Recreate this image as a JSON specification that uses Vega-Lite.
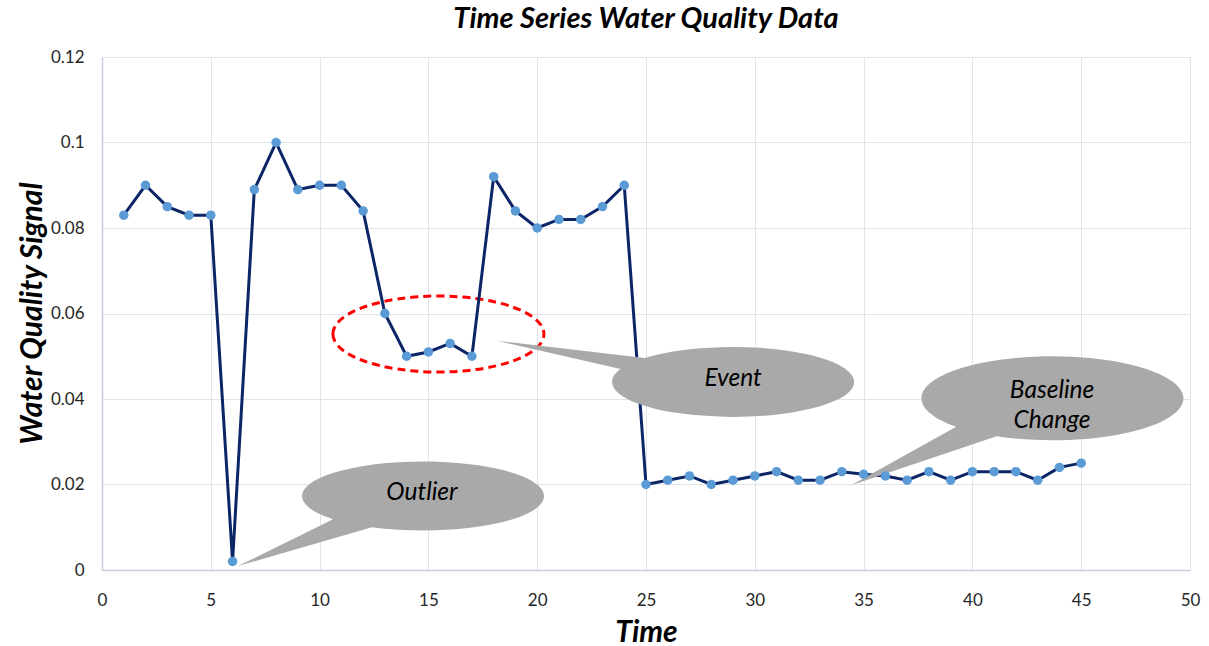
{
  "$schema": "https://vega.github.io/schema/vega-lite/v6.json",
  "width": 1088,
  "height": 513,
  "autosize": "none",
  "padding": {"left": 102, "top": 57, "right": 19, "bottom": 76},
  "background": "white",
  "config": {"font": "Lato", "view": {"stroke": null}},
  "title": {"text": "Time Series Water Quality Data", "fontSize": 29, "fontStyle": "italic", "fontWeight": "bold", "font": "Lato", "color": "#000000", "offset": 14, "anchor": "middle"},
  "datasets": {
    "series": [
      {"time": 1, "signal": 0.083}, {"time": 2, "signal": 0.090}, {"time": 3, "signal": 0.085}, {"time": 4, "signal": 0.083}, {"time": 5, "signal": 0.083},
      {"time": 6, "signal": 0.002}, {"time": 7, "signal": 0.089}, {"time": 8, "signal": 0.100}, {"time": 9, "signal": 0.089}, {"time": 10, "signal": 0.090},
      {"time": 11, "signal": 0.090}, {"time": 12, "signal": 0.084}, {"time": 13, "signal": 0.060}, {"time": 14, "signal": 0.050}, {"time": 15, "signal": 0.051},
      {"time": 16, "signal": 0.053}, {"time": 17, "signal": 0.050}, {"time": 18, "signal": 0.092}, {"time": 19, "signal": 0.084}, {"time": 20, "signal": 0.080},
      {"time": 21, "signal": 0.082}, {"time": 22, "signal": 0.082}, {"time": 23, "signal": 0.085}, {"time": 24, "signal": 0.090}, {"time": 25, "signal": 0.020},
      {"time": 26, "signal": 0.021}, {"time": 27, "signal": 0.022}, {"time": 28, "signal": 0.020}, {"time": 29, "signal": 0.021}, {"time": 30, "signal": 0.022},
      {"time": 31, "signal": 0.023}, {"time": 32, "signal": 0.021}, {"time": 33, "signal": 0.021}, {"time": 34, "signal": 0.023}, {"time": 35, "signal": 0.0224},
      {"time": 36, "signal": 0.022}, {"time": 37, "signal": 0.021}, {"time": 38, "signal": 0.023}, {"time": 39, "signal": 0.021}, {"time": 40, "signal": 0.023},
      {"time": 41, "signal": 0.023}, {"time": 42, "signal": 0.023}, {"time": 43, "signal": 0.021}, {"time": 44, "signal": 0.024}, {"time": 45, "signal": 0.025}
    ],
    "callouts": [
      {"kind": "Event", "time": 29.0, "signal": 0.044},
      {"kind": "Outlier", "time": 14.75, "signal": 0.0173},
      {"kind": "Baseline", "time": 43.66, "signal": 0.0402}
    ],
    "notes": [
      {"label": "Event", "time": 29.0, "signal": 0.0447},
      {"label": "Outlier", "time": 14.7, "signal": 0.018},
      {"label": "Baseline\nChange", "time": 43.66, "signal": 0.0419}
    ],
    "region": [{"time": 15.46, "signal": 0.0552}]
  },
  "encoding": {
    "x": {
      "field": "time", "type": "quantitative",
      "scale": {"domain": [0, 50], "nice": false, "zero": false},
      "axis": {
        "title": "Time", "values": [0, 5, 10, 15, 20, 25, 30, 35, 40, 45, 50],
        "titleFontSize": 30, "titleFontStyle": "italic", "titleFontWeight": "bold", "titleColor": "#000000",
        "titleX": 544, "titleY": 62, "titleBaseline": "middle",
        "labelFontSize": 17, "labelColor": "#262626", "labelPadding": 22, "labelFlush": false,
        "ticks": false, "tickSize": 0,
        "grid": true, "gridColor": "#E2E4EC", "gridWidth": 1,
        "domainColor": "#C8CCDC", "domainWidth": 1.5
      }
    },
    "y": {
      "field": "signal", "type": "quantitative",
      "scale": {"domain": [0, 0.12], "nice": false, "zero": false},
      "axis": {
        "title": "Water Quality Signal", "values": [0, 0.02, 0.04, 0.06, 0.08, 0.1, 0.12], "format": ".2~f",
        "titleFontSize": 30, "titleFontStyle": "italic", "titleFontWeight": "bold", "titleColor": "#000000",
        "titleX": -70, "titleY": 256, "titleBaseline": "middle", "titleAngle": -90,
        "labelFontSize": 17, "labelColor": "#262626", "labelPadding": 18, "labelFlush": false,
        "ticks": false, "tickSize": 0,
        "grid": true, "gridColor": "#E2E4EC", "gridWidth": 1,
        "domainColor": "#C8CCDC", "domainWidth": 1.5
      }
    }
  },
  "layer": [
    {
      "data": {"name": "region"},
      "mark": {"type": "point", "shape": "M -105.5 0 A 105.5 38 0 1 0 105.5 0 A 105.5 38 0 1 0 -105.5 0 Z", "size": 4, "filled": false, "stroke": "#FF0000", "strokeWidth": 3, "strokeDash": [8, 5], "opacity": 1}
    },
    {
      "data": {"name": "series"},
      "mark": {"type": "line", "color": "#0B2566", "strokeWidth": 3}
    },
    {
      "data": {"name": "callouts"},
      "transform": [{"filter": "datum.kind === 'Event'"}],
      "mark": {"type": "point", "shape": "M -88.3 -23.9 L -235 -41 L -112.5 -12.8 A 121 35 0 1 0 -88.3 -23.9 Z", "size": 4, "filled": true, "fill": "#A9A9A9", "strokeWidth": 0, "opacity": 1}
    },
    {
      "data": {"name": "callouts"},
      "transform": [{"filter": "datum.kind === 'Outlier'"}],
      "mark": {"type": "point", "shape": "M -89.9 23.1 L -185 70 L -51.1 31.3 A 121 34.5 0 1 0 -89.9 23.1 Z", "size": 4, "filled": true, "fill": "#A9A9A9", "strokeWidth": 0, "opacity": 1}
    },
    {
      "data": {"name": "callouts"},
      "transform": [{"filter": "datum.kind === 'Baseline'"}],
      "mark": {"type": "point", "shape": "M -95.8 28.6 L -201 87 L -55.4 38.1 A 131 42 0 1 0 -95.8 28.6 Z", "size": 4, "filled": true, "fill": "#A9A9A9", "strokeWidth": 0, "opacity": 1}
    },
    {
      "data": {"name": "series"},
      "mark": {"type": "point", "filled": true, "color": "#5B9BD5", "size": 90, "opacity": 1}
    },
    {
      "data": {"name": "notes"},
      "mark": {"type": "text", "fontSize": 24.5, "fontStyle": "italic", "color": "#000000", "lineBreak": "\n", "lineHeight": 30, "align": "center", "baseline": "middle"},
      "encoding": {"text": {"field": "label"}}
    }
  ]
}
